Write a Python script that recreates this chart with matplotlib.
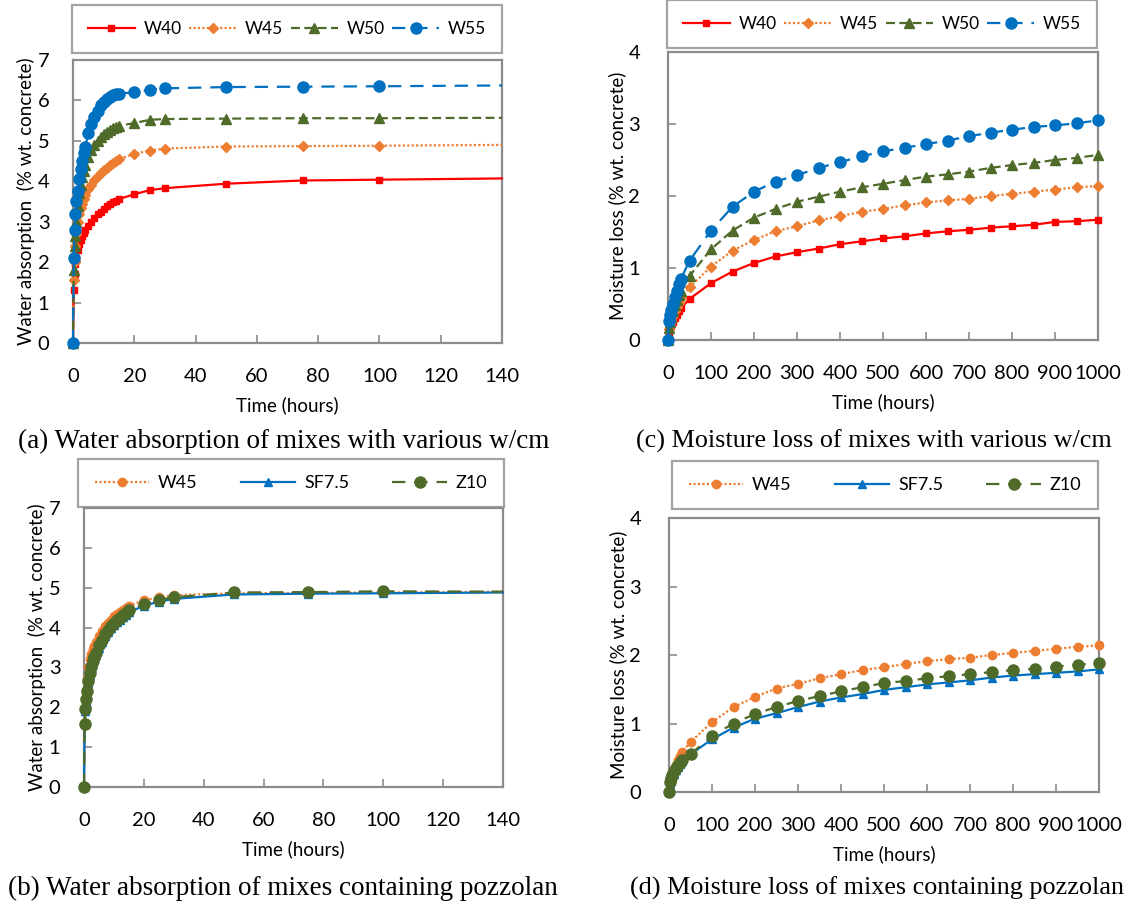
import matplotlib
matplotlib.use("Agg")
import matplotlib.pyplot as plt

# ---- data: water absorption (hours) ----
t_abs = [0, 0.25, 0.5, 0.75, 1, 1.5, 2, 2.5, 3, 3.5, 4, 5, 6, 7, 8, 9, 10,
         11, 12, 13, 14, 15, 20, 25, 30, 50, 75, 100, 140]
abs_w40 = [0, 1.3, 1.7, 1.95, 2.1, 2.3, 2.45, 2.55, 2.65, 2.72, 2.8, 2.9, 3.0,
           3.1, 3.18, 3.25, 3.32, 3.38, 3.43, 3.48, 3.52, 3.56, 3.68, 3.78,
           3.83, 3.94, 4.02, 4.04, 4.07]
abs_w45 = [0, 1.55, 2.0, 2.4, 2.7, 3.0, 3.2, 3.33, 3.45, 3.55, 3.65, 3.8, 3.92,
           4.03, 4.12, 4.2, 4.28, 4.34, 4.4, 4.45, 4.5, 4.55, 4.68, 4.76, 4.81,
           4.86, 4.87, 4.88, 4.9]
abs_w50 = [0, 1.8, 2.4, 2.65, 3.0, 3.4, 3.7, 3.9, 4.1, 4.25, 4.4, 4.6, 4.78,
           4.9, 5.0, 5.1, 5.17, 5.22, 5.27, 5.31, 5.34, 5.37, 5.44, 5.52, 5.54,
           5.55, 5.56, 5.56, 5.57]
abs_w55 = [0, 2.1, 2.8, 3.2, 3.5, 3.75, 4.05, 4.3, 4.5, 4.7, 4.85, 5.2, 5.42,
           5.6, 5.75, 5.88, 5.95, 6.03, 6.08, 6.13, 6.16, 6.17, 6.2, 6.26, 6.3,
           6.33, 6.34, 6.35, 6.37]
abs_sf75 = [0, 1.58, 1.9, 2.15, 2.35, 2.6, 2.8, 2.95, 3.1, 3.2, 3.32, 3.5, 3.65,
            3.78, 3.88, 3.98, 4.06, 4.13, 4.2, 4.26, 4.32, 4.38, 4.55, 4.65,
            4.72, 4.83, 4.85, 4.86, 4.88]
abs_z10 = [0, 1.58, 1.95, 2.2, 2.4, 2.65, 2.85, 3.0, 3.15, 3.26, 3.37, 3.56, 3.7,
           3.83, 3.94, 4.03, 4.11, 4.18, 4.25, 4.31, 4.37, 4.43, 4.6, 4.7,
           4.76, 4.88, 4.89, 4.91, 4.9]

# ---- data: moisture loss (hours) ----
t_loss = [0, 2, 5, 8, 12, 16, 20, 25, 30, 50, 100, 150, 200, 250, 300, 350,
          400, 450, 500, 550, 600, 650, 700, 750, 800, 850, 900, 950, 1000]
loss_w40 = [0, 0.1, 0.16, 0.2, 0.25, 0.3, 0.35, 0.4, 0.44, 0.57, 0.79, 0.95,
            1.07, 1.16, 1.22, 1.27, 1.33, 1.37, 1.41, 1.44, 1.48, 1.51, 1.53,
            1.56, 1.58, 1.6, 1.64, 1.65, 1.67]
loss_w45 = [0, 0.15, 0.22, 0.28, 0.34, 0.4, 0.46, 0.52, 0.58, 0.73, 1.02, 1.24,
            1.39, 1.51, 1.58, 1.66, 1.72, 1.78, 1.82, 1.87, 1.91, 1.94, 1.96,
            2.0, 2.03, 2.06, 2.09, 2.12, 2.14]
loss_w50 = [0, 0.17, 0.25, 0.32, 0.4, 0.48, 0.55, 0.62, 0.68, 0.89, 1.26, 1.52,
            1.7, 1.82, 1.92, 1.99, 2.06, 2.12, 2.17, 2.22, 2.27, 2.3, 2.34,
            2.39, 2.43, 2.46, 2.5, 2.53, 2.57]
loss_w55 = [0, 0.27, 0.35, 0.42, 0.5, 0.6, 0.68, 0.78, 0.85, 1.1, 1.52, 1.85,
            2.06, 2.2, 2.29, 2.39, 2.47, 2.55, 2.62, 2.67, 2.72, 2.77, 2.83,
            2.88, 2.92, 2.96, 2.98, 3.01, 3.05]
loss_sf75 = [0, 0.12, 0.17, 0.22, 0.27, 0.32, 0.36, 0.41, 0.45, 0.55, 0.77, 0.94,
             1.07, 1.15, 1.24, 1.32, 1.38, 1.43, 1.49, 1.53, 1.57, 1.6, 1.63,
             1.67, 1.7, 1.72, 1.74, 1.76, 1.79]
loss_z10 = [0, 0.15, 0.2, 0.25, 0.3, 0.35, 0.39, 0.43, 0.47, 0.55, 0.82, 1.0,
            1.14, 1.24, 1.33, 1.4, 1.47, 1.53, 1.59, 1.62, 1.66, 1.69, 1.72,
            1.75, 1.78, 1.8, 1.83, 1.86, 1.88]

RED = "#FF0000"
ORANGE = "#ED7D31"
GREEN = "#4F6B2A"
BLUE = "#0070C0"
GRAY = "#8C8C8C"

W, H = 1128, 905
fig = plt.figure(figsize=(W / 100, H / 100), dpi=100)
plt.rcParams["font.family"] = ["Lato", "DejaVu Sans"]


def px_axes(l, t, r, b):
    return fig.add_axes([l / W, 1 - b / H, (r - l) / W, (b - t) / H])


def style_axes(ax, xmax, xstep, ymax, ylabel, ypad):
    ax.set_xlim(0, xmax)
    ax.set_ylim(0, ymax)
    ax.set_xticks(range(0, xmax + 1, xstep))
    ax.set_yticks(range(0, ymax + 1))
    for s in ax.spines.values():
        s.set_color(GRAY)
        s.set_linewidth(1.6)
    ax.tick_params(direction="in", length=6, width=1.2, color=GRAY,
                   labelsize=14.5, colors="black")
    ax.tick_params(axis="x", pad=18)
    ax.tick_params(axis="y", pad=ypad)
    ax.set_xlabel("Time (hours)", fontsize=13.5, labelpad=8)
    ax.set_ylabel(ylabel, fontsize=13.5, labelpad=2)


def legend_box(ax, cx, cy, ncol, colsp, hlen, fs):
    leg = fig.legend(*ax.get_legend_handles_labels(), ncol=ncol,
                     bbox_to_anchor=(cx / W, 1 - cy / H), loc="center",
                     fontsize=fs, frameon=True, fancybox=False,
                     handlelength=hlen, borderpad=0.9, columnspacing=colsp,
                     handletextpad=0.5)
    leg.get_frame().set_edgecolor(GRAY)
    leg.get_frame().set_linewidth(1.6)


def plot_series(ax, x, y, color, ls, marker, ms, label, last_marker=True):
    # the absorption curves run on to the axis edge with no marker at 140 h
    every = None if last_marker else slice(0, len(x) - 1)
    ax.plot(x, y, color=color, linestyle=ls, linewidth=1.6, marker=marker,
            markersize=ms, label=label, clip_on=False, markevery=every,
            zorder=3)


# (a) water absorption, various w/cm
ax_a = px_axes(73, 60, 502, 343)
plot_series(ax_a, t_abs, abs_w40, RED, "-", "s", 5, "W40", False)
plot_series(ax_a, t_abs, abs_w45, ORANGE, (0, (1, 1)), "D", 5, "W45", False)
plot_series(ax_a, t_abs, abs_w50, GREEN, (0, (4, 2)), "^", 7, "W50", False)
plot_series(ax_a, t_abs, abs_w55, BLUE, (0, (6, 4)), "o", 8, "W55", False)
style_axes(ax_a, 140, 20, 7, "Water absorption  (% wt. concrete)", 17)
legend_box(ax_a, 287, 29, 4, 0.45, 2.7, 12.5)

# (c) moisture loss, various w/cm
ax_c = px_axes(668, 52, 1098, 340)
plot_series(ax_c, t_loss, loss_w40, RED, "-", "s", 5, "W40")
plot_series(ax_c, t_loss, loss_w45, ORANGE, (0, (1, 1)), "D", 5, "W45")
plot_series(ax_c, t_loss, loss_w50, GREEN, (0, (4, 2)), "^", 7, "W50")
plot_series(ax_c, t_loss, loss_w55, BLUE, (0, (6, 4)), "o", 8, "W55")
style_axes(ax_c, 1000, 100, 4, "Moisture loss (% wt. concrete)", 20)
legend_box(ax_c, 882, 24, 4, 0.45, 2.7, 12.5)

# (b) water absorption, pozzolan
ax_b = px_axes(84, 508, 503, 787)
plot_series(ax_b, t_abs, abs_w45, ORANGE, (0, (1, 1)), "o", 6, "W45", False)
plot_series(ax_b, t_abs, abs_sf75, BLUE, "-", "^", 6, "SF7.5", False)
plot_series(ax_b, t_abs, abs_z10, GREEN, (0, (6, 4)), "o", 8, "Z10", False)
style_axes(ax_b, 140, 20, 7, "Water absorption  (% wt. concrete)", 17)
legend_box(ax_b, 291, 483, 3, 2.4, 3.0, 13)

# (d) moisture loss, pozzolan
ax_d = px_axes(669, 518, 1099, 792)
plot_series(ax_d, t_loss, loss_w45, ORANGE, (0, (1, 1)), "o", 6, "W45")
plot_series(ax_d, t_loss, loss_sf75, BLUE, "-", "^", 6, "SF7.5")
plot_series(ax_d, t_loss, loss_z10, GREEN, (0, (6, 4)), "o", 8, "Z10")
style_axes(ax_d, 1000, 100, 4, "Moisture loss (% wt. concrete)", 20)
legend_box(ax_d, 885, 485, 3, 2.4, 3.0, 13)

# captions
cap = dict(family="Liberation Serif", va="center")
fig.text(284 / W, 1 - 441 / H, "(a) Water absorption of mixes with various w/cm",
         ha="center", fontsize=19.5, **cap)
fig.text(636 / W, 1 - 441 / H, "(c) Moisture loss of mixes with various w/cm",
         ha="left", fontsize=18.8, **cap)
fig.text(283 / W, 1 - 888 / H, "(b) Water absorption of mixes containing pozzolan",
         ha="center", fontsize=19.5, **cap)
fig.text(630 / W, 1 - 888 / H, "(d) Moisture loss of mixes containing pozzolan",
         ha="left", fontsize=18.8, **cap)

fig.savefig("out.png", dpi=100)
